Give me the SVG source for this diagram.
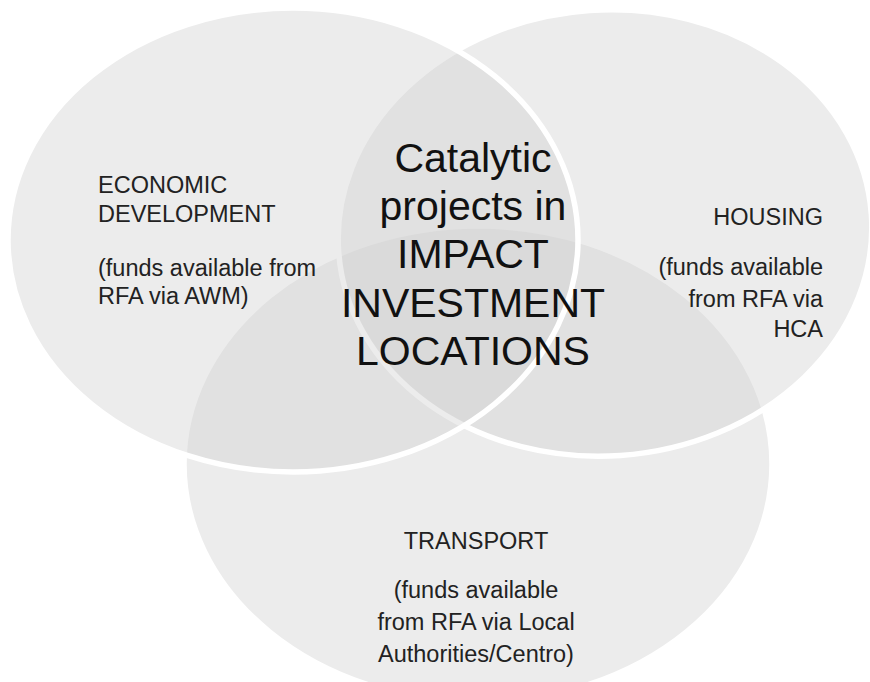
<svg xmlns="http://www.w3.org/2000/svg" width="870" height="682" viewBox="0 0 870 682">
  <style>
    .circle { fill: #d2d2d2; fill-opacity: 0.42; stroke: #ffffff; stroke-width: 5.5; }
    .lbl { font-family: "Liberation Sans", Arial, sans-serif; font-size: 23.5px; fill: #222222; }
    .big { font-family: "Liberation Sans", Arial, sans-serif; font-size: 41px; fill: #111111; text-anchor: middle; }
  </style>
  <rect x="0" y="0" width="870" height="682" fill="#ffffff"/>
  <g id="node-transport">
    <ellipse class="circle" cx="478" cy="464" rx="294" ry="238"/>
  </g>
  <g id="node-housing">
    <ellipse class="circle" cx="605" cy="233" rx="267" ry="223" transform="rotate(-4 605 233)"/>
  </g>
  <g id="node-economic">
    <ellipse class="circle" cx="293" cy="240" rx="285" ry="232"/>
  </g>
  <g id="node-economic-label">
    <text class="lbl" x="98" y="193">ECONOMIC</text>
    <text class="lbl" x="98" y="222">DEVELOPMENT</text>
    <text class="lbl" x="98" y="276">(funds available from</text>
    <text class="lbl" x="98" y="304">RFA via AWM)</text>
  </g>
  <g id="node-housing-label" text-anchor="end">
    <text class="lbl" x="823" y="225">HOUSING</text>
    <text class="lbl" x="823" y="275">(funds available</text>
    <text class="lbl" x="823" y="307">from RFA via</text>
    <text class="lbl" x="823" y="337">HCA</text>
  </g>
  <g id="node-transport-label" text-anchor="middle">
    <text class="lbl" x="476" y="549">TRANSPORT</text>
    <text class="lbl" x="476" y="598">(funds available</text>
    <text class="lbl" x="476" y="630">from RFA via Local</text>
    <text class="lbl" x="476" y="662">Authorities/Centro)</text>
  </g>
  <g id="center-label">
    <text class="big" x="473" y="172">Catalytic</text>
    <text class="big" x="473" y="220">projects in</text>
    <text class="big" x="473" y="268">IMPACT</text>
    <text class="big" x="473" y="317">INVESTMENT</text>
    <text class="big" x="473" y="365">LOCATIONS</text>
  </g>
</svg>
